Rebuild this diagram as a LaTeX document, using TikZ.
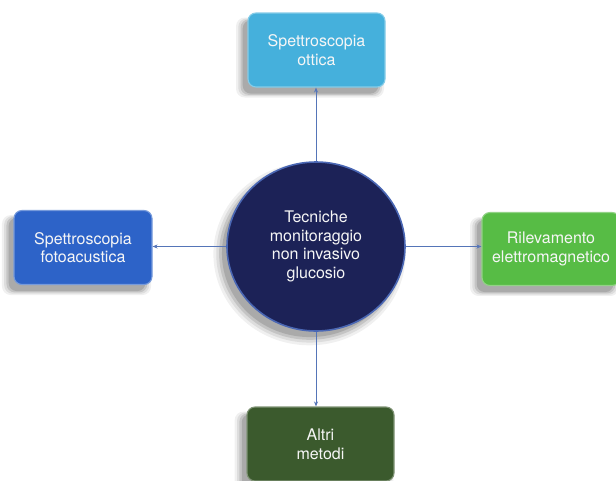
\documentclass[tikz,border=0pt]{standalone}
\usepackage{fontspec}
\setsansfont{TeX Gyre Heros}
\usetikzlibrary{shapes,arrows.meta,positioning,shadows}
\definecolor{HubNavy}{HTML}{1C2257}
\definecolor{HubRim}{HTML}{4A67B4}
\definecolor{OttBlue}{HTML}{45B0DC}
\definecolor{FotoBlue}{HTML}{2D63C8}
\definecolor{EletGreen}{HTML}{57BC45}
\definecolor{AltriGreen}{HTML}{3B5A2D}
\definecolor{LinkBlue}{HTML}{5575B8}

\begin{document}
\begin{tikzpicture}[
    x=1pt, y=-1pt,
    font=\sffamily\fontsize{16}{18.7}\selectfont,
    softshade/.style={
      general shadow={shadow xshift=-6pt, shadow yshift=-7pt, shadow scale=1.08, fill=black, opacity=0.06},
      general shadow={shadow xshift=-6pt, shadow yshift=-7pt, shadow scale=1.05, fill=black, opacity=0.08},
      general shadow={shadow xshift=-6pt, shadow yshift=-7pt, shadow scale=1.02, fill=black, opacity=0.11},
      general shadow={shadow xshift=-6pt, shadow yshift=-7pt, shadow scale=0.99, fill=black, opacity=0.13}},
    techbox/.style={draw=#1!65!white, fill=#1, line width=1.1pt, rounded corners=8pt, text=white!93!gray, align=center, minimum width=138pt, minimum height=74pt, inner sep=2pt, softshade},
    hubnode/.style={ellipse, draw=HubRim, fill=HubNavy, line width=1.6pt, text=white!93!gray, align=center, minimum width=178pt, minimum height=169pt, inner sep=0pt, softshade},
    linkarrow/.style={draw=LinkBlue, line width=0.8pt, -{Stealth[length=5pt, width=4pt]}}
]

  % -------------------------------------------------------------
  % SFONDO E RITAGLIO
  % -------------------------------------------------------------
  \clip (0,0) rectangle (616,480);
  \fill[white] (0,0) rectangle (616,480);

  % -------------------------------------------------------------
  % NODO CENTRALE
  % -------------------------------------------------------------
  \node[hubnode] (hub) at (316, 246.5) {Tecniche\\monitoraggio\\non invasivo\\glucosio};

  % -------------------------------------------------------------
  % TECNICHE
  % -------------------------------------------------------------
  \node[techbox=OttBlue, minimum width=137pt] (b_ott) at (316.5, 50) {Spettroscopia\\ottica};
  \node[techbox=FotoBlue] (b_foto) at (83, 247.5) {Spettroscopia\\fotoacustica};
  \node[techbox=EletGreen, minimum height=73pt] (b_elet) at (551, 249) {Rilevamento\\elettromagnetico};
  \node[techbox=AltriGreen, minimum width=147pt] (b_altri) at (320.5, 444) {Altri\\metodi};

  % Collegamenti
  \draw[linkarrow] (hub.north) -- (hub.north |- b_ott.south);
  \draw[linkarrow] (hub.west) -- (b_foto.east |- hub.west);
  \draw[linkarrow] (hub.east) -- (b_elet.west |- hub.east);
  \draw[linkarrow] (hub.south) -- (hub.south |- b_altri.north);

\end{tikzpicture}
\end{document}
